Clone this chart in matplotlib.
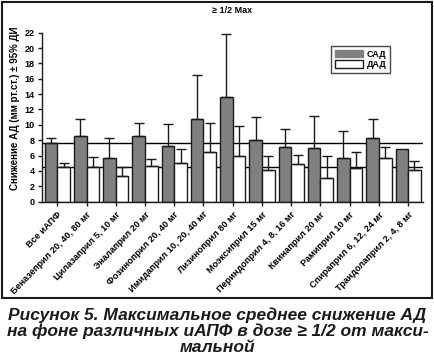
import numpy as np
import matplotlib
matplotlib.use("Agg")
import matplotlib.pyplot as plt
from matplotlib.patches import Patch, Rectangle

plt.rcParams['font.family'] = ['Liberation Sans', 'DejaVu Sans']

categories = ["Все иАПФ", "Беназеприл 20, 40, 80 мг", "Цилазаприл 5, 10 мг",
              "Эналаприл 20 мг", "Фозиноприл 20, 40 мг", "Имидаприл 10, 20, 40 мг",
              "Лизиноприл 80 мг", "Моэксиприл 15 мг", "Периндоприл 4, 8, 16 мг",
              "Квинаприл 20 мг", "Рамиприл 10 мг", "Спираприл 6, 12, 24 мг",
              "Трандолаприл 2, 4, 8 мг"]
sad = [7.6, 8.5, 5.65, 8.5, 7.2, 10.7, 13.6, 8.0, 7.1, 6.95, 5.65, 8.25, 6.8]
sad_upper = [8.25, 10.7, 8.25, 10.2, 10.15, 16.45, 21.8, 11.0, 9.45, 11.1, 9.2, 10.7, np.nan]
dad = [4.5, 4.5, 3.4, 4.65, 5.0, 6.45, 5.95, 4.1, 4.85, 3.05, 4.35, 5.65, 4.1]
dad_upper = [5.0, 5.8, 4.5, 5.5, 6.8, 10.3, 9.8, 5.95, 6.05, 5.95, 6.45, 7.1, 5.25]
ref_sad = 7.6
ref_dad = 4.5
yticks = list(range(0, 23, 2))

fig = plt.figure(figsize=(4.35, 3.55), dpi=100)
ax = fig.add_axes([0.096, 0.432, 0.876, 0.476])

x = np.arange(len(categories))
w = 0.43
gray = '#808083'

ax.axhline(ref_sad, color='black', lw=1.0, zorder=1)
ax.axhline(ref_dad, color='black', lw=1.0, zorder=1)

ax.bar(x - w / 2, sad, width=w, color=gray, edgecolor='#1a1a1a', lw=1.0, zorder=2)
ax.bar(x + w / 2, dad, width=w, color='white', edgecolor='#1a1a1a', lw=1.0, zorder=2)

sad_a = np.array(sad)
dad_a = np.array(dad)
su = np.array(sad_upper)
du = np.array(dad_upper)
m = ~np.isnan(su)
ax.errorbar((x - w / 2)[m], sad_a[m], yerr=[np.zeros(m.sum()), (su - sad_a)[m]],
            fmt='none', ecolor='#1a1a1a', elinewidth=1.0, capsize=3.3, capthick=1.0, zorder=3)
ax.errorbar(x + w / 2, dad_a, yerr=[np.zeros(len(dad)), du - dad_a],
            fmt='none', ecolor='#1a1a1a', elinewidth=1.0, capsize=3.3, capthick=1.0, zorder=3)

ax.set_xlim(-0.53, len(categories) - 0.5)
ax.set_ylim(0, 22)
ax.set_yticks(yticks)
ax.set_yticklabels([str(t) for t in yticks], fontsize=6.5, fontweight='bold')
ax.set_xticks(x)
ax.set_xticklabels(categories, rotation=46, ha='right', va='top', rotation_mode='anchor',
                   fontsize=6.6, fontweight='bold')
ax.tick_params(axis='both', length=3, width=1.0, color='#1a1a1a', pad=2)
ax.tick_params(axis='x', pad=3)
for s in ['top', 'right']:
    ax.spines[s].set_visible(False)
for s in ['left', 'bottom']:
    ax.spines[s].set_linewidth(1.0)
    ax.spines[s].set_color('#1a1a1a')

ax.set_ylabel("Снижение АД (мм рт.ст.) ± 95% ДИ", fontsize=7, fontweight='bold')
ax.yaxis.set_label_coords(-0.057, 0.55)
ax.set_title("≥ 1/2 Max", fontsize=6.5, fontweight='bold', pad=14)

handles = [Patch(facecolor=gray, edgecolor=gray), Patch(facecolor='white', edgecolor='#1a1a1a')]
leg = ax.legend(handles, ["САД", "ДАД"], loc='upper left', bbox_to_anchor=(0.759, 0.921),
                prop={'size': 6.5, 'weight': 'bold'}, frameon=True, fancybox=False,
                edgecolor='#1a1a1a', handlelength=3.2, handleheight=0.9, borderaxespad=0,
                borderpad=0.4, labelspacing=0.15, handletextpad=0.4)
leg.get_frame().set_linewidth(1.0)

fig.patches.append(Rectangle((2 / 435, 1 - 298 / 355), 430 / 435, 296 / 355,
                             transform=fig.transFigure, fill=False, edgecolor='#1a1a1a',
                             lw=1.5))

cap_lines = ["Рисунок 5. Максимальное среднее снижение АД",
             "на фоне различных иАПФ в дозе ≥ 1/2 от макси-",
             "мальной"]
for i, line in enumerate(cap_lines):
    fig.text(0.5, 1 - (315 + i * 16) / 355, line, ha='center', va='center',
             fontsize=12.5, fontweight='bold', style='italic', color='#1a1a1a')

fig.savefig("out.png", dpi=100)
